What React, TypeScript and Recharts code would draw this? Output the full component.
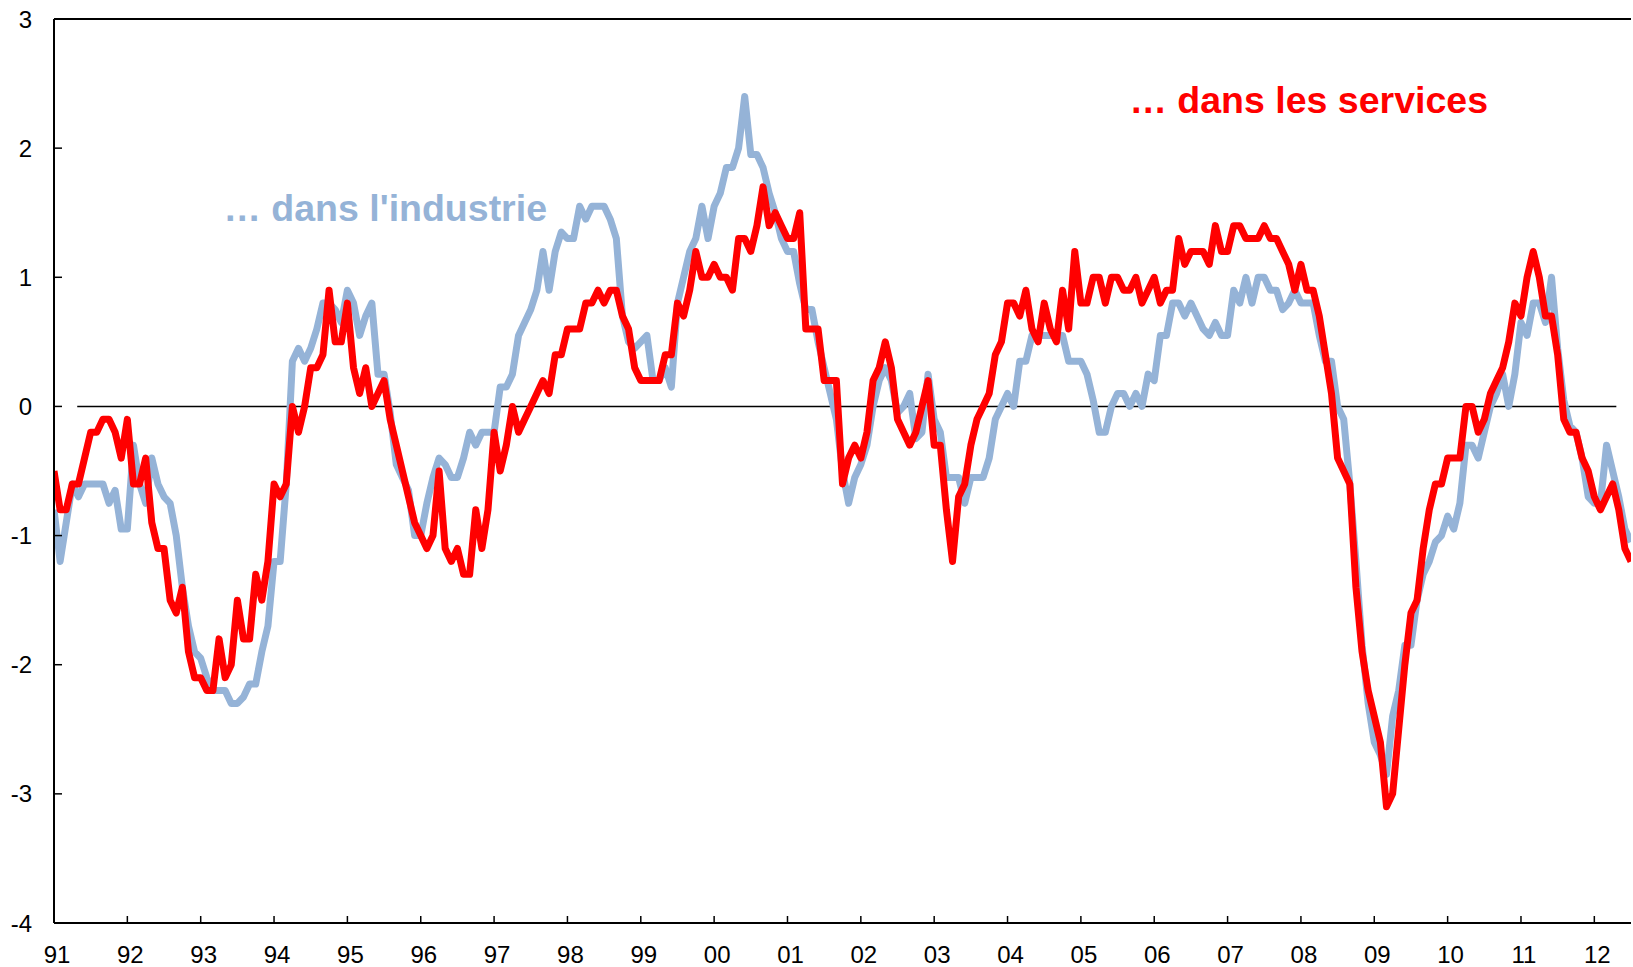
import React from 'react';
import { LineChart, Line, XAxis, YAxis, ReferenceLine } from 'recharts';

// monthly values, Jan 1991 .. Jul 2012
const SERVICES = [
  -0.5, -0.8, -0.8, -0.6, -0.6, -0.4, -0.2, -0.2, -0.1, -0.1, -0.2, -0.4,
  -0.1, -0.6, -0.6, -0.4, -0.9, -1.1, -1.1, -1.5, -1.6, -1.4, -1.9, -2.1,
  -2.1, -2.2, -2.2, -1.8, -2.1, -2.0, -1.5, -1.8, -1.8, -1.3, -1.5, -1.2,
  -0.6, -0.7, -0.6, 0.0, -0.2, 0.0, 0.3, 0.3, 0.4, 0.9, 0.5, 0.5,
  0.8, 0.3, 0.1, 0.3, 0.0, 0.1, 0.2, -0.1, -0.3, -0.5, -0.7, -0.9,
  -1.0, -1.1, -1.0, -0.5, -1.1, -1.2, -1.1, -1.3, -1.3, -0.8, -1.1, -0.8,
  -0.2, -0.5, -0.3, 0.0, -0.2, -0.1, 0.0, 0.1, 0.2, 0.1, 0.4, 0.4,
  0.6, 0.6, 0.6, 0.8, 0.8, 0.9, 0.8, 0.9, 0.9, 0.7, 0.6, 0.3,
  0.2, 0.2, 0.2, 0.2, 0.4, 0.4, 0.8, 0.7, 0.9, 1.2, 1.0, 1.0,
  1.1, 1.0, 1.0, 0.9, 1.3, 1.3, 1.2, 1.4, 1.7, 1.4, 1.5, 1.4,
  1.3, 1.3, 1.5, 0.6, 0.6, 0.6, 0.2, 0.2, 0.2, -0.6, -0.4, -0.3,
  -0.4, -0.2, 0.2, 0.3, 0.5, 0.3, -0.1, -0.2, -0.3, -0.2, 0.0, 0.2,
  -0.3, -0.3, -0.8, -1.2, -0.7, -0.6, -0.3, -0.1, 0.0, 0.1, 0.4, 0.5,
  0.8, 0.8, 0.7, 0.9, 0.6, 0.5, 0.8, 0.6, 0.5, 0.9, 0.6, 1.2,
  0.8, 0.8, 1.0, 1.0, 0.8, 1.0, 1.0, 0.9, 0.9, 1.0, 0.8, 0.9,
  1.0, 0.8, 0.9, 0.9, 1.3, 1.1, 1.2, 1.2, 1.2, 1.1, 1.4, 1.2,
  1.2, 1.4, 1.4, 1.3, 1.3, 1.3, 1.4, 1.3, 1.3, 1.2, 1.1, 0.9,
  1.1, 0.9, 0.9, 0.7, 0.4, 0.1, -0.4, -0.5, -0.6, -1.4, -1.9, -2.2,
  -2.4, -2.6, -3.1, -3.0, -2.5, -2.0, -1.6, -1.5, -1.1, -0.8, -0.6, -0.6,
  -0.4, -0.4, -0.4, 0.0, 0.0, -0.2, -0.1, 0.1, 0.2, 0.3, 0.5, 0.8,
  0.7, 1.0, 1.2, 1.0, 0.7, 0.7, 0.4, -0.1, -0.2, -0.2, -0.4, -0.5,
  -0.7, -0.8, -0.7, -0.6, -0.8, -1.1, -1.2,
];

const INDUSTRY = [
  -0.8, -1.2, -0.9, -0.6, -0.7, -0.6, -0.6, -0.6, -0.6, -0.75, -0.65, -0.95,
  -0.95, -0.3, -0.6, -0.75, -0.4, -0.6, -0.7, -0.75, -1.0, -1.4, -1.7, -1.9,
  -1.95, -2.1, -2.2, -2.2, -2.2, -2.3, -2.3, -2.25, -2.15, -2.15, -1.9, -1.7,
  -1.2, -1.2, -0.6, 0.35, 0.45, 0.35, 0.45, 0.6, 0.8, 0.8, 0.75, 0.65,
  0.9, 0.8, 0.55, 0.7, 0.8, 0.25, 0.25, -0.05, -0.45, -0.55, -0.65, -1.0,
  -1.0, -0.75, -0.55, -0.4, -0.45, -0.55, -0.55, -0.4, -0.2, -0.3, -0.2, -0.2,
  -0.2, 0.15, 0.15, 0.25, 0.55, 0.65, 0.75, 0.9, 1.2, 0.9, 1.2, 1.35,
  1.3, 1.3, 1.55, 1.45, 1.55, 1.55, 1.55, 1.45, 1.3, 0.7, 0.5, 0.45,
  0.5, 0.55, 0.2, 0.2, 0.3, 0.15, 0.8, 1.0, 1.2, 1.3, 1.55, 1.3,
  1.55, 1.65, 1.85, 1.85, 2.0, 2.4, 1.95, 1.95, 1.85, 1.65, 1.5, 1.3,
  1.2, 1.2, 0.95, 0.75, 0.75, 0.5, 0.3, 0.1, -0.1, -0.5, -0.75, -0.55,
  -0.45, -0.3, 0.0, 0.2, 0.3, 0.2, -0.05, 0.0, 0.1, -0.25, -0.2, 0.25,
  -0.1, -0.2, -0.55, -0.55, -0.55, -0.75, -0.55, -0.55, -0.55, -0.4, -0.1, 0.0,
  0.1, 0.0, 0.35, 0.35, 0.55, 0.55, 0.55, 0.55, 0.55, 0.55, 0.35, 0.35,
  0.35, 0.25, 0.05, -0.2, -0.2, 0.0, 0.1, 0.1, 0.0, 0.1, 0.0, 0.25,
  0.2, 0.55, 0.55, 0.8, 0.8, 0.7, 0.8, 0.7, 0.6, 0.55, 0.65, 0.55,
  0.55, 0.9, 0.8, 1.0, 0.8, 1.0, 1.0, 0.9, 0.9, 0.75, 0.8, 0.9,
  0.8, 0.8, 0.8, 0.55, 0.35, 0.35, 0.0, -0.1, -0.6, -1.2, -1.85, -2.3,
  -2.6, -2.7, -2.85, -2.4, -2.2, -1.85, -1.85, -1.5, -1.3, -1.2, -1.05, -1.0,
  -0.85, -0.95, -0.75, -0.3, -0.3, -0.4, -0.2, 0.0, 0.1, 0.25, 0.0, 0.25,
  0.65, 0.55, 0.8, 0.8, 0.65, 1.0, 0.45, 0.05, -0.15, -0.2, -0.4, -0.7,
  -0.75, -0.75, -0.3, -0.5, -0.7, -0.95, -1.05,
];

const YEAR_LABELS = ['91', '92', '93', '94', '95', '96', '97', '98', '99', '00', '01',
  '02', '03', '04', '05', '06', '07', '08', '09', '10', '11', '12'];
const Y_TICKS = [-4, -3, -2, -1, 0, 1, 2, 3];
const ZERO_LINE_START = 3.8;
const ZERO_LINE_END = 255.6;

const data = SERVICES.map((v, i) => ({ m: i, services: v, industry: INDUSTRY[i] }));
const xTicks = YEAR_LABELS.map((_, i) => i * 12);

const FONT = '"Liberation Sans", Arial, sans-serif';
const BLUE = '#95B3D7';
const RED = '#FF0000';

const XTick = (props: any) => {
  const { x, y, payload } = props;
  return <g>
      <line x1={x} y1={y} x2={x} y2={y - 7} stroke="#000" strokeWidth={1.5} />
      <text x={x + 3} y={y + 40} textAnchor="middle" fontFamily={FONT} fontSize={24} fill="#000">
        {YEAR_LABELS[Math.round(payload.value / 12)]}
      </text>
    </g>;
};

const YTick = (props: any) => {
  const { x, y, payload } = props;
  return <g>
      <line x1={x} y1={y} x2={x + 8} y2={y} stroke="#000" strokeWidth={1.5} />
      <text x={x - 22} y={y} dy="0.36em" textAnchor="end" fontFamily={FONT} fontSize={24} fill="#000">
        {payload.value}
      </text>
    </g>;
};

const App: React.FC = () => {
  return <div style={{ position: 'absolute', left: 0, top: 0, background: '#fff' }}>
      <LineChart width={1633} height={967} data={data} margin={{ top: 19, right: 2, left: 0, bottom: 0 }}>
        <XAxis dataKey="m" type="number" domain={[0, 258]} ticks={xTicks} interval={0}
          height={44} tickSize={0} tickMargin={0} tickLine={false} tick={<XTick />}
          axisLine={{ stroke: '#000', strokeWidth: 2 }} allowDataOverflow />
        <YAxis type="number" domain={[-4, 3]} ticks={Y_TICKS} interval={0} width={54}
          tickSize={0} tickMargin={0} tickLine={false} tick={<YTick />}
          axisLine={{ stroke: '#000', strokeWidth: 2 }} allowDataOverflow />
        <ReferenceLine y={3} stroke="#000" strokeWidth={2} />
        <ReferenceLine segment={[{ x: ZERO_LINE_START, y: 0 }, { x: ZERO_LINE_END, y: 0 }]} stroke="#000" strokeWidth={1.5} />
        <Line type="linear" dataKey="industry" stroke={BLUE} strokeWidth={7} dot={false}
          strokeLinejoin="round" isAnimationActive={false} />
        <Line type="linear" dataKey="services" stroke={RED} strokeWidth={7} dot={false}
          strokeLinejoin="round" isAnimationActive={false} />
        <text x={547} y={221} textAnchor="end" fontFamily={FONT} fontWeight="bold" fontSize={37.5} fill={BLUE}>
          … dans l'industrie
        </text>
        <text x={1488} y={113} textAnchor="end" fontFamily={FONT} fontWeight="bold" fontSize={37.5} fill={RED}>
          … dans les services
        </text>
      </LineChart>
    </div>;
};

export default App;
